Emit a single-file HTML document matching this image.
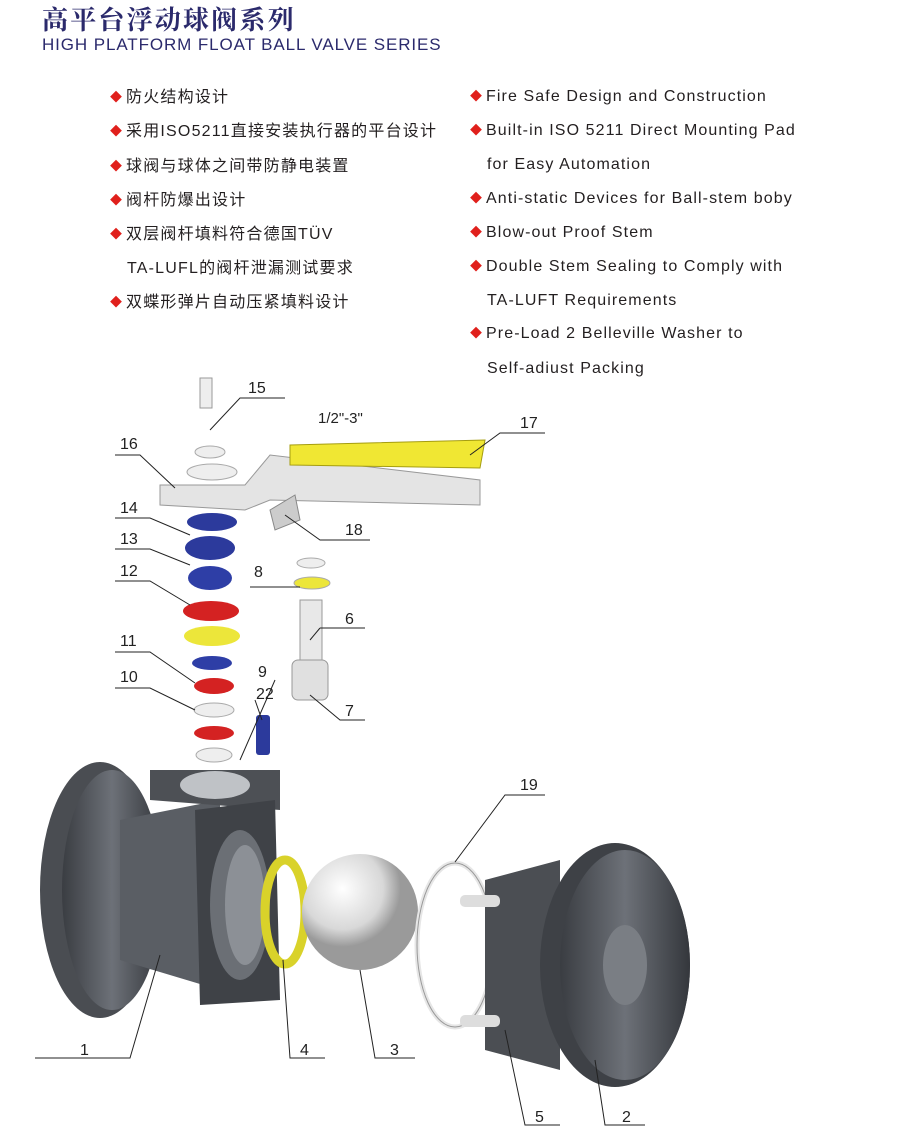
<!DOCTYPE html>
<html><head><meta charset="utf-8"><style>
body{margin:0;width:914px;height:1131px;background:#fff;position:relative;overflow:hidden;font-family:"Liberation Sans","Noto Sans CJK SC",sans-serif}
.t{position:absolute;white-space:nowrap;color:#231f20}
.d{color:#e0201c;font-size:12px;margin-right:4px;position:relative;top:-1px;letter-spacing:0}
</style></head><body>
<div class="t" style="left:42px;top:0px;font-family:'Liberation Serif','Noto Serif CJK SC',serif;font-weight:bold;font-size:26px;color:#2b2a6c;letter-spacing:2.2px">高平台浮动球阀系列</div>
<div class="t" style="left:42px;top:35px;font-size:17px;color:#2b2a6c;letter-spacing:0.9px">HIGH PLATFORM FLOAT BALL VALVE SERIES</div>

<div class="t" style="left:110px;top:81px;font-size:16px;line-height:33.3px;letter-spacing:1.2px">
<div><span class="d">◆</span>防火结构设计</div>
<div><span class="d">◆</span>采用ISO5211直接安装执行器的平台设计</div>
<div><span class="d">◆</span>球阀与球体之间带防静电装置</div>
<div><span class="d">◆</span>阀杆防爆出设计</div>
<div><span class="d">◆</span>双层阀杆填料符合德国TÜV</div>
<div style="padding-left:17px">TA-LUFL的阀杆泄漏测试要求</div>
<div><span class="d">◆</span>双蝶形弹片自动压紧填料设计</div>
</div>
<div class="t" style="left:470px;top:80px;font-size:16px;line-height:33.2px;letter-spacing:1.1px">
<div><span class="d">◆</span>Fire Safe Design and Construction</div>
<div><span class="d">◆</span>Built-in ISO 5211 Direct Mounting Pad</div>
<div style="padding-left:17px">for Easy Automation</div>
<div><span class="d">◆</span>Anti-static Devices for Ball-stem boby</div>
<div><span class="d">◆</span>Blow-out Proof Stem</div>
<div><span class="d">◆</span>Double Stem Sealing to Comply with</div>
<div style="padding-left:17px">TA-LUFT Requirements</div>
<div><span class="d">◆</span>Pre-Load 2 Belleville Washer to</div>
<div style="padding-left:17px">Self-adiust Packing</div>
</div>

<svg width="914" height="1131" style="position:absolute;left:0;top:0" font-family="Liberation Sans" font-size="16" fill="#222">
<defs>
<linearGradient id="g" x1="0" x2="1"><stop offset="0" stop-color="#3a3d42"/><stop offset="0.5" stop-color="#6d7178"/><stop offset="1" stop-color="#34373c"/></linearGradient>
<radialGradient id="b" cx="0.35" cy="0.3"><stop offset="0" stop-color="#fff"/><stop offset="0.7" stop-color="#d8d8d8"/><stop offset="1" stop-color="#9a9a9a"/></radialGradient>
</defs>
<ellipse cx="100" cy="890" rx="60" ry="128" fill="#4a4d52"/>
<ellipse cx="112" cy="890" rx="50" ry="120" fill="url(#g)"/>
<path d="M120 820 L220 800 L220 990 L120 960Z" fill="#5a5e64"/>
<path d="M150 770 L280 770 L280 810 L150 800Z" fill="#4d5055"/>
<ellipse cx="215" cy="785" rx="35" ry="14" fill="#bfc2c6"/>
<path d="M195 810 L275 800 L280 1000 L200 1005Z" fill="#3f4247"/>
<ellipse cx="240" cy="905" rx="30" ry="75" fill="#6b6f75"/>
<ellipse cx="245" cy="905" rx="20" ry="60" fill="#8c9096"/>
<ellipse cx="285" cy="912" rx="20" ry="52" fill="none" stroke="#d9d22a" stroke-width="9"/>
<circle cx="360" cy="912" r="58" fill="url(#b)"/>
<ellipse cx="455" cy="945" rx="38" ry="82" fill="none" stroke="#e6e6e6" stroke-width="5"/>
<ellipse cx="455" cy="945" rx="38" ry="82" fill="none" stroke="#999" stroke-width="1"/>
<path d="M485 880 L560 860 L560 1070 L485 1050Z" fill="#4b4e53"/>
<rect x="460" y="895" width="40" height="12" rx="5" fill="#ddd"/>
<rect x="460" y="1015" width="40" height="12" rx="5" fill="#ddd"/>
<ellipse cx="615" cy="965" rx="75" ry="122" fill="#3e4146"/>
<ellipse cx="625" cy="965" rx="65" ry="115" fill="url(#g)"/>
<ellipse cx="625" cy="965" rx="22" ry="40" fill="#7a7e84"/>
<rect x="200" y="378" width="12" height="30" fill="#eee" stroke="#999"/>
<ellipse cx="210" cy="452" rx="15" ry="6" fill="#eee" stroke="#aaa"/>
<ellipse cx="212" cy="472" rx="25" ry="8" fill="#eee" stroke="#aaa"/>
<path d="M160 485 L245 485 L270 455 L480 480 L480 505 L270 500 L245 510 L160 505Z" fill="#e4e4e4" stroke="#999"/>
<path d="M290 445 L485 440 L480 468 L290 465Z" fill="#f0e733" stroke="#a59d10"/>
<text x="318" y="423" font-size="15">1/2"-3"</text>
<path d="M270 510 L295 495 L300 520 L275 530Z" fill="#ccc" stroke="#888"/>
<ellipse cx="212" cy="522" rx="25" ry="9" fill="#2c3a9c"/>
<ellipse cx="210" cy="548" rx="25" ry="12" fill="#2c3a9c"/>
<ellipse cx="210" cy="578" rx="22" ry="12" fill="#2e3ea6"/>
<ellipse cx="211" cy="611" rx="28" ry="10" fill="#d42222"/>
<ellipse cx="212" cy="636" rx="28" ry="10" fill="#ece63a"/>
<ellipse cx="212" cy="663" rx="20" ry="7" fill="#2e3ea6"/>
<ellipse cx="214" cy="686" rx="20" ry="8" fill="#d42222"/>
<ellipse cx="214" cy="710" rx="20" ry="7" fill="#eee" stroke="#aaa"/>
<ellipse cx="214" cy="733" rx="20" ry="7" fill="#d42222"/>
<ellipse cx="214" cy="755" rx="18" ry="7" fill="#eee" stroke="#aaa"/>
<rect x="256" y="715" width="14" height="40" rx="3" fill="#2c3a9c"/>
<ellipse cx="311" cy="563" rx="14" ry="5" fill="#eee" stroke="#aaa"/>
<ellipse cx="312" cy="583" rx="18" ry="6" fill="#ece63a" stroke="#aaa"/>
<rect x="300" y="600" width="22" height="60" fill="#e8e8e8" stroke="#999"/>
<rect x="292" y="660" width="36" height="40" rx="6" fill="#e0e0e0" stroke="#999"/>
<g stroke="#222" stroke-width="1" fill="none">
<path d="M210 430 L240 398 L285 398"/>
<path d="M115 455 L140 455 L175 488"/>
<path d="M115 518 L150 518 L190 535"/>
<path d="M115 549 L150 549 L190 565"/>
<path d="M115 581 L150 581 L190 605"/>
<path d="M115 652 L150 652 L195 683"/>
<path d="M115 688 L150 688 L195 710"/>
<path d="M275 680 L240 760"/>
<path d="M255 700 L262 720"/>
<path d="M250 587 L300 587"/>
<path d="M320 628 L310 640"/><path d="M320 628 L365 628"/>
<path d="M310 695 L340 720 L365 720"/>
<path d="M285 515 L320 540 L370 540"/>
<path d="M470 455 L500 433 L545 433"/>
<path d="M35 1058 L130 1058 L160 955"/>
<path d="M283 960 L290 1058 L325 1058"/>
<path d="M360 970 L375 1058 L415 1058"/>
<path d="M455 862 L505 795 L545 795"/>
<path d="M505 1030 L525 1125 L560 1125"/>
<path d="M595 1060 L605 1125 L645 1125"/>
</g>
<text x="248" y="393">15</text><text x="120" y="449">16</text><text x="520" y="428">17</text>
<text x="345" y="535">18</text><text x="120" y="513">14</text><text x="120" y="544">13</text>
<text x="120" y="576">12</text><text x="120" y="646">11</text><text x="120" y="682">10</text>
<text x="258" y="677">9</text><text x="256" y="699">22</text><text x="254" y="577">8</text>
<text x="345" y="624">6</text><text x="345" y="716">7</text><text x="520" y="790">19</text>
<text x="80" y="1055">1</text><text x="300" y="1055">4</text><text x="390" y="1055">3</text>
<text x="535" y="1122">5</text><text x="622" y="1122">2</text>
</svg>
</body></html>
